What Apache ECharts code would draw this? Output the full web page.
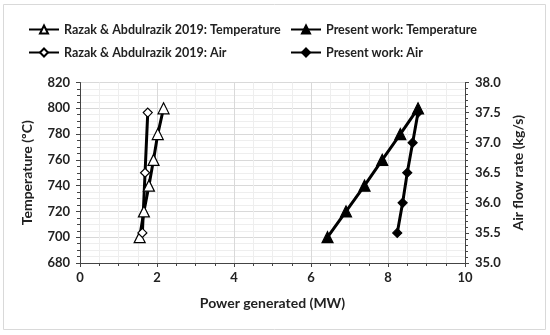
<!DOCTYPE html>
<html><head><meta charset="utf-8">
<script src="https://cdn.jsdelivr.net/npm/echarts@6/dist/echarts.min.js"></script>
<style>html,body{margin:0;padding:0;background:#fff}#c{width:550px;height:335px}</style>
</head><body><div id="c"></div>
<script>
const razakTempPower = [1.55, 1.66, 1.79, 1.91, 2.02, 2.17];
const razakTemp = [700, 720, 740, 760, 780, 800];
const razakAirPower = [1.62, 1.69, 1.76];
const razakAir = [35.5, 36.5, 37.5];
const presentTempPower = [6.43, 6.91, 7.39, 7.85, 8.32, 8.78];
const presentTemp = [700, 720, 740, 760, 780, 800];
const presentAirPower = [8.24, 8.38, 8.50, 8.64, 8.78];
const presentAir = [35.5, 36.0, 36.5, 37.0, 37.5];
const names = ['Razak & Abdulrazik 2019: Temperature','Present work: Temperature','Razak & Abdulrazik 2019: Air','Present work: Air'];

const zip = (a,b)=>a.map((v,i)=>[v,b[i]]);
const FONT = 'Lato, "Open Sans", sans-serif';
const chart = echarts.init(document.getElementById('c'), null, {renderer:'canvas'});
const legendBase = {itemWidth:30, itemHeight:10, textStyle:{fontFamily:FONT,fontWeight:'bold',fontSize:12.5,color:'#222'}, itemGap:2, padding:0};
const mkSeries = (name, data, sym, filled, yIdx)=>({
  name, type:'line', data, yAxisIndex:yIdx, symbol:sym, symbolSize: sym==='triangle'?11:9,
  lineStyle:{color:'#000',width:3}, itemStyle:{color: filled?'#000':'#fff', borderColor:'#000', borderWidth:1.2},
  emphasis:{disabled:true}, z: 3
});
chart.setOption({
  animation:false,
  graphic:[{type:'rect',shape:{x:3.5,y:4.5,width:542,height:325},style:{fill:'none',stroke:'#d9d9d9',lineWidth:1},silent:true}],
  legend:[
    Object.assign({}, legendBase, {data:[names[0]], left:28, top:23}),
    Object.assign({}, legendBase, {data:[names[1]], left:290, top:23}),
    Object.assign({}, legendBase, {data:[names[2]], left:28, top:46}),
    Object.assign({}, legendBase, {data:[names[3]], left:290, top:46})
  ],
  grid:{left:80, right:85, top:82.5, bottom:72, containLabel:false},
  xAxis:{type:'value', min:0, max:10, interval:2, name:'Power generated (MW)', nameLocation:'middle', nameGap:33,
    nameTextStyle:{fontFamily:FONT,fontWeight:'bold',fontSize:14,color:'#222'},
    axisLine:{lineStyle:{color:'#444',width:1}}, axisTick:{show:true,lineStyle:{color:'#444'},length:4},
    minorTick:{show:true,splitNumber:4,length:3,lineStyle:{color:'#444'}},
    axisLabel:{fontFamily:FONT,fontWeight:'bold',fontSize:13,color:'#222',margin:8},
    splitLine:{show:true,lineStyle:{color:'#d9d9d9',width:1}},
    minorSplitLine:{show:true,lineStyle:{color:'#eeeeee',width:1}}},
  yAxis:[
    {type:'value', min:680, max:820, interval:20, name:'Temperature (ºC)', nameLocation:'middle', nameGap:46, nameRotate:90,
     nameTextStyle:{fontFamily:FONT,fontWeight:'bold',fontSize:14,color:'#222'},
     axisLine:{show:true,lineStyle:{color:'#444',width:1}}, axisTick:{show:true,length:4,lineStyle:{color:'#444'}},
     minorTick:{show:true,splitNumber:4,length:3,lineStyle:{color:'#444'}},
     axisLabel:{fontFamily:FONT,fontWeight:'bold',fontSize:13,color:'#222',margin:10},
     splitLine:{show:true,lineStyle:{color:'#d9d9d9',width:1}},
     minorSplitLine:{show:true,lineStyle:{color:'#eeeeee',width:1}}},
    {type:'value', min:35, max:38, interval:0.5, position:'right', name:'Air flow rate (kg/s)', nameLocation:'middle', nameGap:48, nameRotate:90,
     nameTextStyle:{fontFamily:FONT,fontWeight:'bold',fontSize:14,color:'#222',verticalAlign:'bottom'},
     axisLine:{show:true,lineStyle:{color:'#444',width:1}}, axisTick:{show:true,length:4,lineStyle:{color:'#444'}},
     minorTick:{show:true,splitNumber:5,length:3,lineStyle:{color:'#444'}},
     axisLabel:{fontFamily:FONT,fontWeight:'bold',fontSize:13,color:'#222',margin:10,formatter:v=>v.toFixed(1)},
     splitLine:{show:false}}
  ],
  series:[
    mkSeries(names[0], zip(razakTempPower, razakTemp), 'triangle', false, 0),
    mkSeries(names[1], zip(presentTempPower, presentTemp), 'triangle', true, 0),
    mkSeries(names[2], zip(razakAirPower, razakAir), 'diamond', false, 1),
    mkSeries(names[3], zip(presentAirPower, presentAir), 'diamond', true, 1)
  ]
});
</script></body></html>
